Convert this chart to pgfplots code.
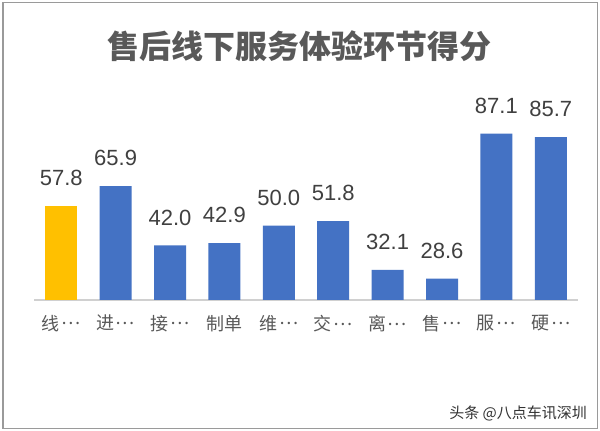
\documentclass[border=0pt]{standalone}
\usepackage{fontspec}
\setmainfont{Liberation Sans}
\newfontfamily\cjk{Noto Sans CJK SC}
\usepackage{pgfplots}
\pgfplotsset{compat=1.18}
\definecolor{xlblue}{HTML}{4472C4}
\definecolor{xlyellow}{HTML}{FFC000}
\definecolor{titlegray}{HTML}{595959}
\definecolor{labgray}{HTML}{595959}
\definecolor{valgray}{HTML}{404040}
\definecolor{framegray}{HTML}{9A9A9A}
\definecolor{basegray}{HTML}{D0D0D0}
\newcommand{\md}{\hspace{0.1em}\raisebox{0.3em}{…}}
\begin{document}
\begin{tikzpicture}
\fill[white] (0bp,0bp) rectangle (600bp,431bp);
\begin{axis}[
  at={(34bp,131bp)}, anchor=south west,
  scale only axis, width=544bp, height=198.4bp,
  xmin=-0.5, xmax=9.5, ymin=20, ymax=100,
  ybar, bar width=32bp, bar shift=0pt,
  axis y line=none,
  axis x line*=bottom,
  x axis line style={basegray, line width=1.2bp, -},
  xtick={0,...,9},
  xticklabels={线\md,进\md,接\md,制单,维\md,交\md,离\md,售\md,服\md,硬\md},
  major tick length=0pt,
  xtick style={draw=none},
  xticklabel style={font=\cjk\fontsize{18bp}{20bp}\selectfont, text=labgray, inner sep=0pt, anchor=north, yshift=-15bp},
  /pgf/number format/assume math mode=true,
  nodes near coords={\pgfmathprintnumber[fixed,fixed zerofill,precision=1]{\pgfplotspointmeta}},
  every node near coord/.append style={font=\fontsize{22bp}{24bp}\selectfont, text=valgray, inner sep=0pt, yshift=20bp},
  clip=false,
]
\addplot[fill=xlyellow, draw=none] coordinates {(0,57.8)};
\addplot[fill=xlblue, draw=none] coordinates {(1,65.9) (2,42.0) (3,42.9) (4,50.0) (5,51.8) (6,32.1) (7,28.6) (8,87.1) (9,85.7)};
\end{axis}
\node[font=\cjk\bfseries\fontsize{32bp}{36bp}\selectfont, text=titlegray, inner sep=0pt] at (299bp,385bp) {售后线下服务体验环节得分};
\node[font=\cjk\fontsize{15bp}{17bp}\selectfont, text=black!80, inner sep=0pt, anchor=base east] at (587bp,13bp) {头条 @八点车讯深圳};
\draw[framegray, line width=1.2bp] (3bp,2.5bp) rectangle (597.5bp,428.5bp);
\end{tikzpicture}
\end{document}
